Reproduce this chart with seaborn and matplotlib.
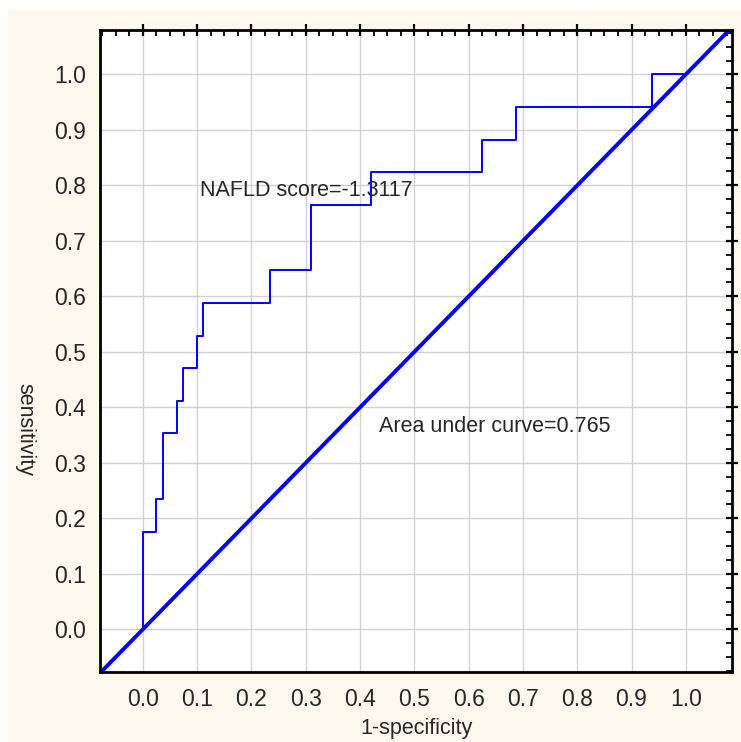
import numpy as np
import pandas as pd
import seaborn as sns
import matplotlib.pyplot as plt
from matplotlib.patches import Rectangle
from matplotlib.ticker import FixedLocator

# ROC curve points (1-specificity, sensitivity)
fpr = [0.0, 0.0, 0.025, 0.025, 0.037, 0.037, 0.062, 0.062, 0.074, 0.074,
       0.099, 0.099, 0.111, 0.111, 0.235, 0.235, 0.309, 0.309, 0.42, 0.42,
       0.625, 0.625, 0.688, 0.688, 0.938, 0.938, 1.0]
tpr = [0.0, 0.176, 0.176, 0.235, 0.235, 0.353, 0.353, 0.412, 0.412, 0.471,
       0.471, 0.529, 0.529, 0.588, 0.588, 0.647, 0.647, 0.765, 0.765, 0.824,
       0.824, 0.882, 0.882, 0.941, 0.941, 1.0, 1.0]
diag = [-0.1, 1.1]
ticks = [round(v, 1) for v in np.arange(0, 1.01, 0.1)]
tick_labels = [f"{v:.1f}" for v in ticks]
cutoff_label = "NAFLD score=-1.3117"
auc_label = "Area under curve=0.765"

roc = pd.DataFrame({"fpr": fpr, "tpr": tpr})

sns.set_style("white")
plt.rcParams['font.family'] = ['Liberation Sans', 'DejaVu Sans']

fig = plt.figure(figsize=(7.41, 7.42), dpi=100, facecolor="white")
# cream panel behind the chart, leaving a thin white strip top/left
fig.patches.append(Rectangle((8/741, 0), 1, 732/742, transform=fig.transFigure,
                             facecolor="#fdf9ee", edgecolor="none", zorder=-1))
ax = fig.add_axes([100/741, 70/742, 632/741, 642/742])
ax.set_facecolor("white")

ax.plot(diag, diag, color="#0000ff", lw=2.8, solid_capstyle="butt", zorder=3)
sns.lineplot(data=roc, x="fpr", y="tpr", sort=False, estimator=None,
             color="#0000ff", lw=1.4, ax=ax, zorder=4)

ax.set_xlim(-0.079, 1.085)
ax.set_ylim(-0.077, 1.08)

ax.xaxis.set_major_locator(FixedLocator(ticks))
ax.yaxis.set_major_locator(FixedLocator(ticks))
ax.set_xticklabels(tick_labels)
ax.set_yticklabels(tick_labels)
minor = np.arange(-0.075, 1.09, 0.025)
ax.xaxis.set_minor_locator(FixedLocator(minor))
ax.yaxis.set_minor_locator(FixedLocator(minor))
ax.tick_params(which="major", direction="inout", length=9, width=1.6,
               top=True, right=True, labelsize=16.5, color="black")
ax.tick_params(axis="y", which="major", pad=5.5)
ax.tick_params(axis="x", which="major", pad=7)
ax.tick_params(which="minor", direction="in", length=4, width=1.3,
               top=True, right=True, color="black")
ax.grid(True, which="major", color="#d2d2d2", lw=1)

for s in ax.spines.values():
    s.set_color("black")
    s.set_linewidth(2)
    s.set_zorder(5)

ax.set_xlabel("1-specificity", fontsize=15.5)
ax.xaxis.label.set(va="center", ha="center")
ax.xaxis.set_label_coords(0.5, -0.088)
ax.set_ylabel("sensitivity", fontsize=15.5, rotation=270)
ax.yaxis.label.set(va="center", ha="center")
ax.yaxis.set_label_coords(-0.119, 0.377)

ax.text(0.105, 0.79, cutoff_label, fontsize=15.5, va="center", ha="left")
ax.text(0.435, 0.366, auc_label, fontsize=15.5, va="center", ha="left")

fig.savefig("out.png", dpi=100, facecolor=fig.get_facecolor())
